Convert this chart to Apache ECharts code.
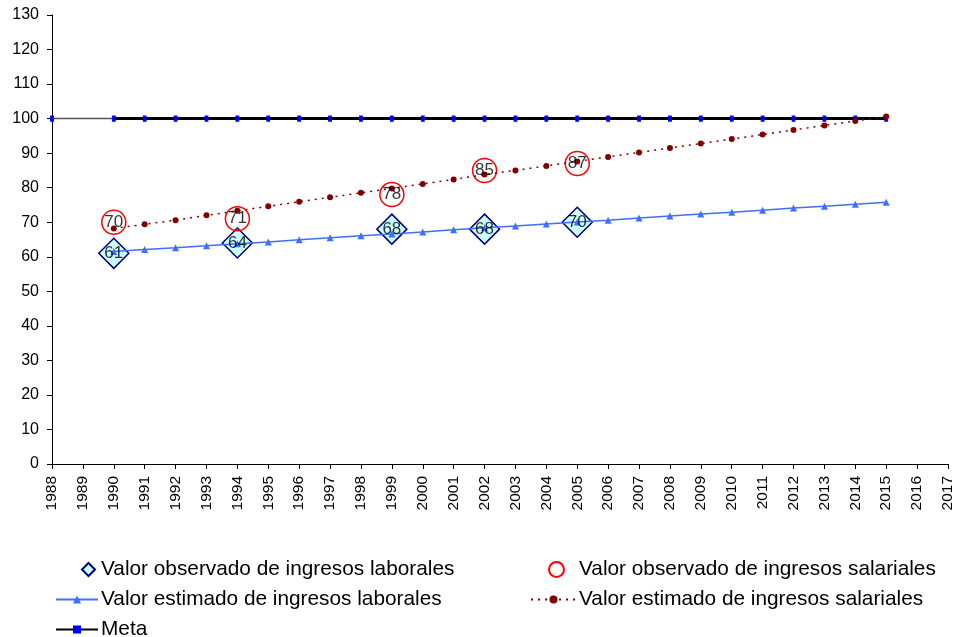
<!DOCTYPE html>
<html>
<head>
<meta charset="utf-8">
<script src="https://cdn.jsdelivr.net/npm/echarts@6/dist/echarts.min.js"></script>
<style>
html,body{margin:0;padding:0;background:#fff;}
#chart{width:956px;height:637px;}
</style>
</head>
<body>
<div id="chart"></div>
<script>
const years = ['1988','1989','1990','1991','1992','1993','1994','1995','1996','1997','1998','1999','2000','2001','2002','2003','2004','2005','2006','2007','2008','2009','2010','2011','2012','2013','2014','2015','2016','2017'];
const yTicks = [0,10,20,30,40,50,60,70,80,90,100,110,120,130];

const obsLaborales = ['-','-',61,'-','-','-',64,'-','-','-','-',68,'-','-',68,'-','-',70,'-','-','-','-','-','-','-','-','-','-','-','-'];
const obsSalariales = ['-','-',70,'-','-','-',71,'-','-','-','-',78,'-','-',85,'-','-',87,'-','-','-','-','-','-','-','-','-','-','-','-'];
const estLaborales = ['-','-',61.5,62.1,62.6,63.2,63.8,64.3,64.9,65.5,66.1,66.6,67.2,67.8,68.4,68.9,69.5,70.1,70.6,71.2,71.8,72.4,72.9,73.5,74.1,74.6,75.2,75.8,'-','-'];
const estSalariales = ['-','-',68.2,69.4,70.6,72.0,73.3,74.6,75.9,77.2,78.5,79.8,81.1,82.4,83.8,85.0,86.3,87.6,88.9,90.2,91.5,92.8,94.1,95.4,96.7,98.0,99.3,100.6,'-','-'];
const meta = [100,'-',100,100,100,100,100,100,100,100,100,100,100,100,100,100,100,100,100,100,100,100,100,100,100,100,100,100,'-','-'];
const metaStart = [100,100,100,'-','-','-','-','-','-','-','-','-','-','-','-','-','-','-','-','-','-','-','-','-','-','-','-','-','-','-'];

const names = {
  obsLab: 'Valor observado de ingresos laborales',
  obsSal: 'Valor observado de ingresos salariales',
  estLab: 'Valor estimado de ingresos laborales',
  estSal: 'Valor estimado de ingresos salariales',
  meta: 'Meta'
};

const font = 'Liberation Sans, Arial, sans-serif';
const chart = echarts.init(document.getElementById('chart'), null, {renderer:'canvas'});

function lt(pad) {
  return {fontFamily: font, fontSize: 20.8, color: '#000', padding: [0,0,0,pad]};
}

chart.setOption({
  animation: false,
  backgroundColor: '#fff',
  grid: {left: 52, right: 8, top: 15, bottom: 173, containLabel: false},
  xAxis: {
    type: 'category',
    data: years,
    boundaryGap: false,
    axisLine: {lineStyle: {color: '#000', width: 1}},
    axisTick: {show: true, interval: 0, length: 5, lineStyle: {color: '#000'}},
    axisLabel: {interval: 0, rotate: 90, margin: 12, fontFamily: font, fontSize: 15.5, color: '#000'},
    splitLine: {show: false}
  },
  yAxis: {
    type: 'value',
    min: yTicks[0],
    max: yTicks[yTicks.length-1],
    interval: 10,
    axisLine: {show: true, lineStyle: {color: '#000', width: 1}},
    axisTick: {show: true, length: 5, lineStyle: {color: '#000'}},
    axisLabel: {margin: 13, fontFamily: font, fontSize: 16, color: '#000'},
    splitLine: {show: false}
  },
  legend: [
    {data: [names.obsLab], left: 81, top: 559, padding: 0, itemWidth: 13, itemHeight: 13, textStyle: lt(1), selectedMode: false},
    {data: [names.obsSal], left: 548, top: 559, padding: 0, itemWidth: 15, itemHeight: 15, textStyle: lt(10), selectedMode: false},
    {data: [names.estLab], left: 55, top: 589, padding: 0, itemWidth: 42, itemHeight: 10, textStyle: lt(-2), selectedMode: false},
    {data: [names.estSal], left: 530, top: 589, padding: 0, itemWidth: 45, itemHeight: 10, textStyle: lt(-2), selectedMode: false},
    {data: [names.meta], left: 55, top: 619, padding: 0, itemWidth: 42, itemHeight: 10, textStyle: lt(-2), selectedMode: false}
  ],
  series: [
    {
      name: 'metaStart', type: 'line', data: metaStart, z: 3,
      symbol: 'none', lineStyle: {color: '#555', width: 1.5}, silent: true
    },
    {
      name: names.meta, type: 'line', data: meta, z: 4, connectNulls: false,
      symbol: 'rect', symbolSize: [3,5],
      itemStyle: {color: '#0000ff', borderColor: '#0000ff'},
      lineStyle: {color: '#000', width: 3}
    },
    {
      name: names.obsLab, type: 'scatter', data: obsLaborales, z: 2,
      symbol: 'diamond', symbolSize: 30,
      itemStyle: {color: '#ccffff', borderColor: '#000080', borderWidth: 1.5, opacity: 1},
      label: {show: false}
    },
    {
      name: names.obsSal, type: 'scatter', data: obsSalariales, z: 2,
      symbol: 'circle', symbolSize: 24,
      itemStyle: {color: 'rgba(255,255,255,0)', borderColor: '#ff0000', borderWidth: 1.5, opacity: 1},
      label: {show: false}
    },
    {
      name: names.estLab, type: 'line', data: estLaborales, z: 5,
      symbol: 'triangle', symbolSize: 7, showAllSymbol: true,
      itemStyle: {color: '#3f6fff'},
      lineStyle: {color: '#3f6fff', width: 1.5}
    },
    {
      name: names.estSal, type: 'line', data: estSalariales, z: 5,
      symbol: 'circle', symbolSize: 6, showAllSymbol: true,
      itemStyle: {color: '#800000'},
      lineStyle: {color: '#800000', width: 1.5, type: [2,5]}
    },
    {
      name: 'labLab', type: 'scatter', data: obsLaborales, z: 10, symbolSize: 0, silent: true,
      label: {show: true, position: 'inside', formatter: p => p.value, fontFamily: font, fontSize: 17, color: '#000'}
    },
    {
      name: 'labSal', type: 'scatter', data: obsSalariales, z: 10, symbolSize: 0, silent: true,
      label: {show: true, position: 'inside', formatter: p => p.value, fontFamily: font, fontSize: 17, color: '#000'}
    }
  ]
});
</script>
</body>
</html>
